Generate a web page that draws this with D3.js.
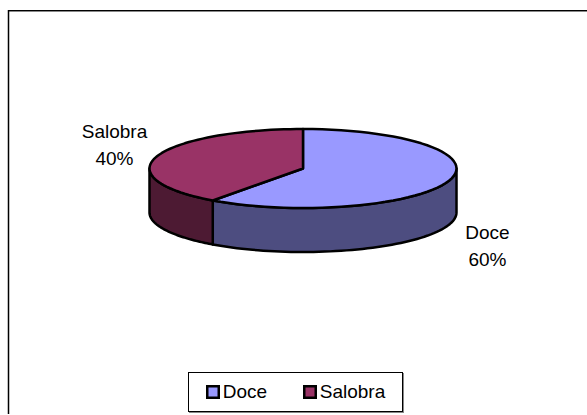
<!DOCTYPE html>
<html>
<head>
<meta charset="utf-8">
<script src="https://cdn.jsdelivr.net/npm/d3@7"></script>
<style>
html, body { margin: 0; padding: 0; background: #fff; }
svg { display: block; }
text { font-family: "Liberation Sans", Arial, sans-serif; font-size: 19px; fill: #000; }
</style>
</head>
<body>
<div id="chart"></div>
<script>
const categories = ["Doce", "Salobra"];
const values = [60, 40];
const topColors = ["#9999ff", "#993366"];
const sideColors = ["#4d4d80", "#4d1a33"];
const labelPos = [[487.5, 239], [114.5, 138]];

const width = 587;
const height = 415;
const cx = 303, cy = 168.5, rx = 153.5, ry = 39.5, depth = 44;

const svg = d3.select("#chart").append("svg")
    .attr("width", width)
    .attr("height", height);

// Outer frame: only the top and left edges show inside the picture
svg.append("line")
    .attr("x1", 8).attr("y1", 11.5).attr("x2", width).attr("y2", 11.5)
    .attr("stroke", "#888");
svg.append("line")
    .attr("x1", 8).attr("y1", 10.5).attr("x2", width).attr("y2", 10.5)
    .attr("stroke", "#000");
svg.append("line")
    .attr("x1", 8.5).attr("y1", 10).attr("x2", 8.5).attr("y2", 414)
    .attr("stroke", "#000")
    .attr("stroke-width", 1.5);

const slices = d3.pie().sort(null)(values);
const px = a => cx + rx * Math.sin(a);
const py = a => cy - ry * Math.cos(a);

// Walk the rim of the ellipse between two angles
function steps(p, from, to, dy) {
    d3.range(1, 61).forEach(i => {
        const a = from + (to - from) * i / 60;
        p.lineTo(px(a), py(a) + dy);
    });
}

// Side wall of a slice, only the part facing the viewer (pi/2 .. 3pi/2)
function sidePath(d) {
    const a0 = Math.max(d.startAngle, Math.PI / 2);
    const a1 = Math.min(d.endAngle, 3 * Math.PI / 2);
    const p = d3.path();
    p.moveTo(px(a0), py(a0));
    steps(p, a0, a1, 0);
    p.lineTo(px(a1), py(a1) + depth);
    steps(p, a1, a0, depth);
    p.closePath();
    return p.toString();
}

function topPath(d) {
    const p = d3.path();
    p.moveTo(cx, cy);
    p.lineTo(px(d.startAngle), py(d.startAngle));
    steps(p, d.startAngle, d.endAngle, 0);
    p.closePath();
    return p.toString();
}

const pie = svg.append("g")
    .attr("stroke", "#000")
    .attr("stroke-width", 2.5)
    .attr("stroke-linejoin", "round");

pie.selectAll(".side")
    .data(slices)
    .enter().append("path")
    .attr("class", "side")
    .attr("fill", (d, i) => sideColors[i])
    .attr("d", sidePath);

pie.selectAll(".top")
    .data(slices)
    .enter().append("path")
    .attr("class", "top")
    .attr("fill", (d, i) => topColors[i])
    .attr("d", topPath);

// Data labels
const labels = svg.selectAll(".label")
    .data(categories)
    .enter().append("text")
    .attr("class", "label")
    .attr("text-anchor", "middle")
    .attr("x", (d, i) => labelPos[i][0])
    .attr("y", (d, i) => labelPos[i][1]);
labels.append("tspan").text(d => d);
labels.append("tspan")
    .attr("x", (d, i) => labelPos[i][0])
    .attr("dy", 26.5)
    .text((d, i) => values[i] + "%");

// Legend
const legend = svg.append("g");
legend.append("rect")
    .attr("x", 189).attr("y", 373)
    .attr("width", 215).attr("height", 40)
    .attr("fill", "#888");
legend.append("rect")
    .attr("x", 188.5).attr("y", 372.5)
    .attr("width", 214).attr("height", 39)
    .attr("fill", "#fff")
    .attr("stroke", "#000");

const legendX = [207.25, 304.25];
const items = legend.selectAll(".item")
    .data(categories)
    .enter().append("g")
    .attr("class", "item")
    .attr("transform", (d, i) => `translate(${legendX[i]},386.25)`);
items.append("rect")
    .attr("width", 11.5).attr("height", 11.5)
    .attr("fill", (d, i) => topColors[i])
    .attr("stroke", "#000")
    .attr("stroke-width", 2.5);
items.append("text")
    .attr("x", 15.5).attr("y", 12)
    .text(d => d);
</script>
</body>
</html>
